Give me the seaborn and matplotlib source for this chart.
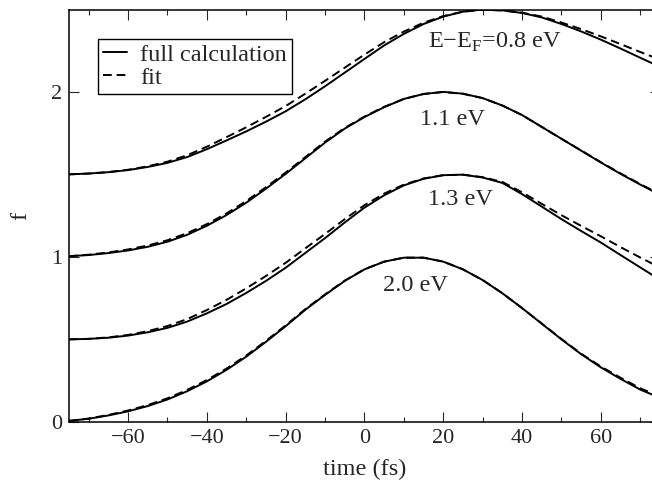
import numpy as np
import pandas as pd
import seaborn as sns
import matplotlib
matplotlib.use("Agg")
import matplotlib.pyplot as plt
from matplotlib.ticker import MultipleLocator
from matplotlib.lines import Line2D

# time axis (fs), values every 5 fs
time = [-75, -70, -65, -60, -55, -50, -45, -40, -35, -30, -25, -20, -15, -10, -5,
        0, 5, 10, 15, 20, 25, 30, 35, 40, 45, 50, 55, 60, 65, 70, 75]

full_08 = [1.502, 1.507, 1.515, 1.528, 1.547, 1.572, 1.607, 1.655, 1.708, 1.763, 1.822,
           1.885, 1.958, 2.037, 2.120, 2.203, 2.285, 2.355, 2.415, 2.460, 2.490, 2.503,
           2.498, 2.482, 2.455, 2.415, 2.370, 2.320, 2.266, 2.210, 2.155]
fit_08 = [1.502, 1.507, 1.516, 1.530, 1.551, 1.579, 1.618, 1.670, 1.728, 1.788, 1.851,
          1.917, 1.992, 2.070, 2.150, 2.229, 2.305, 2.369, 2.423, 2.463, 2.490, 2.501,
          2.497, 2.484, 2.460, 2.424, 2.384, 2.340, 2.293, 2.245, 2.199]

full_11 = [1.005, 1.012, 1.024, 1.040, 1.062, 1.093, 1.135, 1.190, 1.255, 1.330, 1.415,
           1.505, 1.600, 1.695, 1.780, 1.850, 1.910, 1.960, 1.990, 2.003, 1.992, 1.965,
           1.920, 1.862, 1.790, 1.718, 1.646, 1.574, 1.505, 1.440, 1.378]
fit_11 = [1.005, 1.014, 1.028, 1.046, 1.070, 1.102, 1.145, 1.200, 1.265, 1.340, 1.424,
          1.513, 1.607, 1.701, 1.784, 1.853, 1.912, 1.960, 1.990, 2.002, 1.991, 1.965,
          1.920, 1.862, 1.790, 1.718, 1.647, 1.576, 1.508, 1.443, 1.382]

full_13 = [0.500, 0.503, 0.510, 0.523, 0.543, 0.570, 0.608, 0.658, 0.715, 0.782, 0.855,
           0.935, 1.025, 1.115, 1.210, 1.300, 1.375, 1.435, 1.475, 1.497, 1.500, 1.483,
           1.450, 1.382, 1.306, 1.230, 1.158, 1.088, 1.012, 0.937, 0.862]
fit_13 = [0.500, 0.503, 0.512, 0.527, 0.550, 0.581, 0.623, 0.678, 0.740, 0.810, 0.885,
          0.965, 1.053, 1.140, 1.230, 1.315, 1.385, 1.440, 1.477, 1.497, 1.500, 1.485,
          1.456, 1.393, 1.323, 1.254, 1.189, 1.126, 1.060, 0.997, 0.936]

full_20 = [0.005, 0.018, 0.038, 0.063, 0.095, 0.135, 0.185, 0.245, 0.315, 0.395, 0.485,
           0.580, 0.680, 0.770, 0.855, 0.925, 0.972, 0.996, 0.996, 0.972, 0.925, 0.860,
           0.780, 0.690, 0.595, 0.500, 0.410, 0.330, 0.260, 0.195, 0.145]
fit_20 = [0.005, 0.019, 0.041, 0.068, 0.101, 0.142, 0.193, 0.253, 0.323, 0.402, 0.491,
          0.585, 0.684, 0.773, 0.857, 0.926, 0.972, 0.996, 0.996, 0.972, 0.925, 0.860,
          0.780, 0.690, 0.596, 0.502, 0.413, 0.335, 0.267, 0.203, 0.153]

curve_labels = ["E\u2212E$_\\mathregular{F}$=0.8 eV", "1.1 eV", "1.3 eV", "2.0 eV"]
label_pos = [(16.1, 2.27), (14.0, 1.80), (16.1, 1.316), (4.8, 0.792)]

sns.set_style("ticks")
plt.rcParams["font.family"] = ["Liberation Serif", "DejaVu Serif"]
plt.rcParams["mathtext.fontset"] = "custom"
plt.rcParams["mathtext.rm"] = "Liberation Serif"

rows = []
for name, full, fit in [("0.8", full_08, fit_08), ("1.1", full_11, fit_11),
                        ("1.3", full_13, fit_13), ("2.0", full_20, fit_20)]:
    for kind, vals in [("full calculation", full), ("fit", fit)]:
        for t, v in zip(time, vals):
            rows.append((t, v, name, kind))
df = pd.DataFrame(rows, columns=["time", "f", "curve", "kind"])

fig = plt.figure(figsize=(6.52, 4.86), dpi=100)
ax = fig.add_axes([0.1058, 0.1323, 0.9064, 0.8471])

sns.lineplot(data=df, x="time", y="f", units="curve", estimator=None,
             style="kind", style_order=["full calculation", "fit"],
             dashes={"full calculation": "", "fit": (4.5, 2.5)},
             color="black", linewidth=1.4, legend=False, ax=ax)

for txt, (x, y) in zip(curve_labels, label_pos):
    ax.text(x, y, txt, fontsize=17.5, ha="left", va="baseline")

ax.set_xlim(-75, 75)
ax.set_ylim(0, 2.5)
ax.set_xticks([-60, -40, -20, 0, 20, 40, 60])
ax.set_xticklabels(["\u221260", "\u221240", "\u221220", "0", "20", "40", "60"])
ax.xaxis.set_minor_locator(MultipleLocator(10))
ax.set_yticks([0, 1, 2])
ax.tick_params(which="both", direction="in", top=True, right=True,
               labelsize=16, width=0.8, pad=5)
ax.tick_params(which="major", length=7.2)
ax.tick_params(which="minor", length=3.6)
for sp in ax.spines.values():
    sp.set_linewidth(1.1)
    sp.set_color("black")

ax.set_xlabel("time (fs)", fontsize=17.5, labelpad=8)
ax.set_ylabel("f", fontsize=17.5, labelpad=14)

handles = [Line2D([], [], color="black", lw=1.4),
           Line2D([], [], color="black", lw=1.4, dashes=(4.5, 2.5))]
leg = ax.legend(handles, ["full calculation", "fit"], loc="upper left",
                bbox_to_anchor=(0.049, 0.93), borderaxespad=0, fontsize=17.5,
                frameon=True, fancybox=False, edgecolor="black", framealpha=1,
                handlelength=1.0, handletextpad=0.55, borderpad=0.2,
                labelspacing=0.05)
leg.get_frame().set_linewidth(1.0)

fig.savefig("out.png", dpi=100)
